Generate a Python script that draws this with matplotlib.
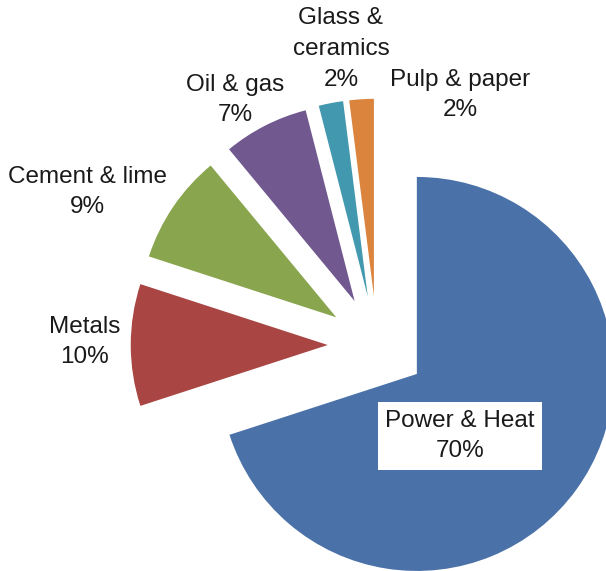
import matplotlib
matplotlib.use("Agg")
import matplotlib.pyplot as plt

# CO2 emissions by industrial sector
sectors = ["Power & Heat", "Metals", "Cement & lime", "Oil & gas",
           "Glass &\nceramics", "Pulp & paper"]
shares = [70, 10, 9, 7, 2, 2]
colors = ["#4A71A8", "#A94543", "#89A54E", "#71588F", "#4298AF", "#DB843D"]

# label anchor points (pixels from top-left)
label_xy = [(460, 436), (85, 342), (87, 192), (235, 100), (341, 49), (460, 95)]

W, H = 606, 571
fig = plt.figure(figsize=(W / 100, H / 100), dpi=100)
ax = fig.add_axes([0, 0, 1, 1])

radius = 197
# explode is given in data units here, so scale it by the radius
ax.pie(shares, colors=colors, startangle=90, counterclock=False,
       explode=[0.25 * radius] * len(shares), radius=radius,
       center=(377, H - 345), wedgeprops=dict(linewidth=0))

ax.set_xlim(0, W)
ax.set_ylim(0, H)
ax.set_aspect("equal")
ax.axis("off")

for i, (name, pct) in enumerate(zip(sectors, shares)):
    x, y = label_xy[i]
    kw = {}
    if i == 0:
        kw["bbox"] = dict(boxstyle="square,pad=0.3", fc="white", ec="none")
    ax.text(x, H - y, f"{name}\n{pct}%", ha="center", va="center",
            fontsize=17.5, family="Liberation Sans", color="#1a1a1a",
            linespacing=1.5, **kw)

fig.savefig("out.png", dpi=100)
